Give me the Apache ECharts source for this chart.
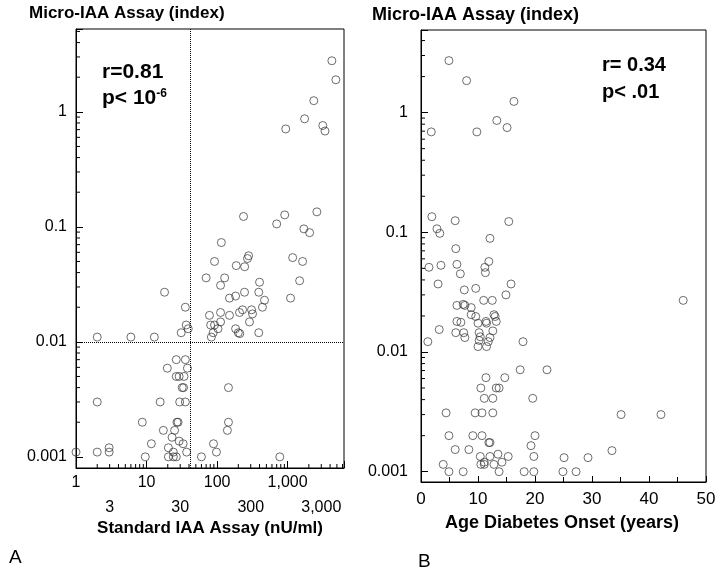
<!DOCTYPE html>
<html>
<head>
<meta charset="utf-8">
<script src="https://cdn.jsdelivr.net/npm/echarts@6/dist/echarts.min.js"></script>
<style>
html, body { margin: 0; padding: 0; background: #fff; }
#chart { width: 721px; height: 575px; }
</style>
</head>
<body>
<div id="chart"></div>
<script>
// panel A: standard IAA assay (nU/ml) vs micro-IAA index
const standardVsMicro = [
  [4240, 2.78], [4830, 1.9], [2350, 1.25], [1740, 0.87], [940, 0.71], [3150, 0.76], [3390, 0.68],
  [2600, 0.135], [910, 0.127], [700, 0.106], [237, 0.123], [1700, 0.096], [2050, 0.089], [115, 0.073],
  [92, 0.050], [280, 0.056], [270, 0.053], [187, 0.046], [246, 0.045], [1180, 0.054], [1630, 0.050],
  [70, 0.036], [128, 0.036], [112, 0.031], [400, 0.033], [1480, 0.034], [18, 0.027],
  [150, 0.024], [183, 0.025], [245, 0.027], [390, 0.027], [470, 0.023], [1100, 0.024],
  [35.5, 0.020], [78, 0.017], [112, 0.018], [150, 0.017], [208, 0.018], [230, 0.019], [308, 0.019],
  [318, 0.0175], [288, 0.0149], [440, 0.020], [112, 0.0149], [92, 0.014], [81, 0.014], [103, 0.013],
  [88, 0.012], [83, 0.011], [183, 0.013], [200, 0.012], [210, 0.0118], [390, 0.012],
  [36.5, 0.014], [39, 0.013], [31, 0.012], [2.0, 0.011], [6.0, 0.011], [12.9, 0.011],
  [26.4, 0.007], [35.5, 0.007], [19.7, 0.0059], [38, 0.0059], [26.4, 0.005], [29, 0.005], [34, 0.005],
  [32, 0.004], [33.5, 0.004], [145, 0.004], [2.0, 0.003], [15.6, 0.003], [29.5, 0.003], [35.5, 0.003],
  [8.7, 0.002], [27, 0.002], [28, 0.002], [145, 0.002], [140, 0.0017], [17.3, 0.0017], [25, 0.0017],
  [23, 0.00148], [29, 0.00137], [11.7, 0.0013], [33, 0.0013], [89, 0.0013], [2.95, 0.0012],
  [2.95, 0.0011], [20.4, 0.0012], [2.0, 0.0011], [24, 0.0011], [37, 0.0011], [98, 0.0011], [1, 0.0011],
  [9.6, 0.001], [20.4, 0.001], [24, 0.001], [26.4, 0.001], [60, 0.001], [775, 0.001]
];

// panel B: age at onset (years) vs micro-IAA index
const onsetVsMicro = [
  [4.9, 2.72], [8.0, 1.85], [16.3, 1.24], [13.3, 0.86], [15.1, 0.75], [9.8, 0.69], [1.8, 0.69],
  [1.9, 0.135], [6.0, 0.125], [15.4, 0.123], [2.8, 0.107], [3.3, 0.098], [12.1, 0.089], [6.1, 0.073],
  [11.9, 0.057], [1.4, 0.051], [3.5, 0.053], [6.3, 0.054], [11.2, 0.051], [11.3, 0.046], [6.9, 0.045],
  [3.0, 0.037], [15.8, 0.037], [7.6, 0.033], [9.6, 0.034], [14.9, 0.030], [46, 0.027],
  [11.0, 0.027], [12.5, 0.027], [6.3, 0.0245], [7.4, 0.025], [7.7, 0.0245], [8.8, 0.0235], [8.8, 0.0205],
  [9.6, 0.0198], [12.8, 0.0205], [13.0, 0.0198], [6.3, 0.018], [7.0, 0.0177], [10.0, 0.0174],
  [11.4, 0.018], [11.5, 0.0174], [13.2, 0.018], [3.2, 0.0154], [6.1, 0.0145], [7.5, 0.0145],
  [7.7, 0.0132], [10.2, 0.0145], [12.6, 0.015], [10.4, 0.0134], [12.1, 0.0132], [10.2, 0.0125],
  [11.8, 0.0122], [1.2, 0.0122], [17.9, 0.0122], [10.0, 0.0111], [11.5, 0.0111],
  [17.4, 0.0071], [22.1, 0.0071], [11.4, 0.0061], [14.7, 0.0061], [10.5, 0.005], [13.2, 0.005],
  [13.7, 0.005], [11.1, 0.0041], [12.6, 0.0041], [19.6, 0.0041], [4.4, 0.0031], [9.5, 0.0031],
  [10.7, 0.0031], [12.6, 0.0031], [35.1, 0.003], [42.1, 0.003], [4.9, 0.002], [9.1, 0.002],
  [10.7, 0.002], [20.0, 0.002], [11.9, 0.00175], [12.1, 0.00175], [19.3, 0.00165], [6.0, 0.00153],
  [8.4, 0.00153], [33.5, 0.0015], [10.4, 0.00134], [12.1, 0.00134], [13.5, 0.0014], [15.3, 0.00134],
  [19.8, 0.00134], [25.1, 0.00131], [29.3, 0.00131], [3.9, 0.00115], [11.1, 0.0012], [11.1, 0.00115],
  [10.5, 0.00115], [12.8, 0.00115], [14.2, 0.0012], [4.9, 0.001], [7.4, 0.001], [13.7, 0.001],
  [18.1, 0.001], [19.8, 0.001], [24.9, 0.001], [27.2, 0.001]
];

const xSecondRowA = [3, 30, 300, 3000];
const xMinorA = [2, 3, 4, 5, 6, 7, 8, 9, 20, 30, 40, 50, 60, 70, 80, 90,
  200, 300, 400, 500, 600, 700, 800, 900, 2000, 3000, 4000, 5000, 6000];
const yMinorA = [0.002, 0.003, 0.004, 0.005, 0.006, 0.007, 0.008, 0.009,
  0.02, 0.03, 0.04, 0.05, 0.06, 0.07, 0.08, 0.09,
  0.2, 0.3, 0.4, 0.5, 0.6, 0.7, 0.8, 0.9, 2, 3, 4, 5];
const yMinorB = yMinorA.filter(v => v < 4.5);
const cutoffStandard = 42;
const cutoffMicro = 0.01;

const A_X = [1, 6300], A_Y = [0.0008, 5.25];
const B_X = [0, 50], B_Y = [0.00082, 4.9];

const FONT = '"Liberation Sans", Arial, Helvetica, sans-serif';

function isPow10(v) {
  const l = Math.log10(v);
  return Math.abs(l - Math.round(l)) < 1e-6;
}
function withCommas(v) {
  return String(Math.round(v)).replace(/\B(?=(\d{3})+(?!\d))/g, ',');
}
function yLabel(v) {
  return isPow10(v) ? String(+v.toPrecision(6)) : '';
}

// small ticks drawn through the axes' own coords
function minorTicks(gi, vals, dir, edge, len) {
  return {
    type: 'custom', xAxisIndex: gi, yAxisIndex: gi, silent: true, clip: false, z: 3,
    data: vals.map(v => dir === 'x' ? [v, edge] : [edge, v]),
    renderItem: function (params, api) {
      const p = api.coord([api.value(0), api.value(1)]);
      const shape = dir === 'x'
        ? { x1: p[0], y1: p[1], x2: p[0], y2: p[1] - len }
        : { x1: p[0], y1: p[1], x2: p[0] + len, y2: p[1] };
      return { type: 'line', shape: shape, style: { stroke: '#000', lineWidth: 1 } };
    }
  };
}

const pointStyle = { color: 'transparent', borderColor: '#333', borderWidth: 0.9 };
const labelStyle = { color: '#000', fontSize: 16, fontFamily: FONT };

const chart = echarts.init(document.getElementById('chart'));
chart.setOption({
  animation: false,
  grid: [
    { left: 76, top: 29, width: 268, height: 439, show: true, borderColor: '#000', borderWidth: 1 },
    { left: 421, top: 30, width: 285, height: 452, show: true, borderColor: '#000', borderWidth: 1 }
  ],
  xAxis: [
    {
      gridIndex: 0, type: 'log', min: A_X[0], max: A_X[1],
      axisLine: { lineStyle: { color: '#000', width: 1 } },
      axisTick: { inside: true, length: 7, lineStyle: { color: '#000' } },
      axisLabel: Object.assign({ margin: 7, formatter: v => isPow10(v) ? withCommas(v) : '' }, labelStyle),
      splitLine: { show: false }
    },
    {
      gridIndex: 1, type: 'value', min: B_X[0], max: B_X[1], interval: 10,
      axisLine: { lineStyle: { color: '#000', width: 1 } },
      axisTick: { inside: true, length: 6, lineStyle: { color: '#000' } },
      minorTick: { show: true, splitNumber: 2, length: 5, lineStyle: { color: '#000' } },
      axisLabel: Object.assign({ margin: 9 }, labelStyle, { fontSize: 17 }),
      splitLine: { show: false }
    }
  ],
  yAxis: [
    {
      gridIndex: 0, type: 'log', min: A_Y[0], max: A_Y[1],
      axisLine: { lineStyle: { color: '#000', width: 1 } },
      axisTick: { inside: true, length: 7, lineStyle: { color: '#000' } },
      axisLabel: Object.assign({ margin: 9, formatter: yLabel }, labelStyle),
      splitLine: { show: false }
    },
    {
      gridIndex: 1, type: 'log', min: B_Y[0], max: B_Y[1],
      axisLine: { lineStyle: { color: '#000', width: 1 } },
      axisTick: { inside: true, length: 7, lineStyle: { color: '#000' } },
      axisLabel: Object.assign({ margin: 13, formatter: yLabel }, labelStyle),
      splitLine: { show: false }
    }
  ],
  series: [
    {
      type: 'scatter', xAxisIndex: 0, yAxisIndex: 0, data: standardVsMicro,
      symbol: 'circle', symbolSize: 8, itemStyle: pointStyle, emphasis: { disabled: true },
      markLine: {
        silent: true, symbol: 'none', label: { show: false }, animation: false,
        lineStyle: { color: '#000', type: 'dotted', width: 1 },
        data: [{ xAxis: cutoffStandard }, { yAxis: cutoffMicro }]
      }
    },
    {
      type: 'scatter', xAxisIndex: 1, yAxisIndex: 1, data: onsetVsMicro,
      symbol: 'circle', symbolSize: 8, itemStyle: pointStyle, emphasis: { disabled: true }
    },
    minorTicks(0, xMinorA, 'x', A_Y[0], 4),
    minorTicks(0, yMinorA, 'y', A_X[0], 4),
    minorTicks(1, yMinorB, 'y', B_X[0], 4),
    {
      type: 'custom', xAxisIndex: 0, yAxisIndex: 0, silent: true, clip: false,
      data: xSecondRowA.map(v => [v, A_Y[0]]),
      renderItem: function (params, api) {
        const p = api.coord([api.value(0), api.value(1)]);
        return {
          type: 'text', x: p[0], y: p[1] + 40,
          style: { text: withCommas(api.value(0)), fill: '#000', font: '16px ' + FONT, align: 'center', verticalAlign: 'middle' }
        };
      }
    }
  ],
  graphic: [
    { type: 'text', x: 29, y: 13, style: { text: 'Micro-IAA Assay (index)', font: 'bold 17px ' + FONT, fill: '#000', verticalAlign: 'middle' } },
    { type: 'text', x: 372, y: 15, style: { text: 'Micro-IAA Assay (index)', font: 'bold 18px ' + FONT, fill: '#000', verticalAlign: 'middle' } },
    { type: 'text', x: 102, y: 72, style: { text: 'r=0.81', font: 'bold 21px ' + FONT, fill: '#000', verticalAlign: 'middle' } },
    {
      type: 'text', x: 102, y: 98,
      style: {
        text: '{a|p< 10}{b|-6}', fill: '#000', verticalAlign: 'middle',
        rich: {
          a: { font: 'bold 21px ' + FONT, fill: '#000' },
          b: { font: 'bold 12px ' + FONT, fill: '#000', verticalAlign: 'top' }
        }
      }
    },
    { type: 'text', x: 602, y: 65, style: { text: 'r= 0.34', font: 'bold 20px ' + FONT, fill: '#000', verticalAlign: 'middle' } },
    { type: 'text', x: 602, y: 92, style: { text: 'p< .01', font: 'bold 20px ' + FONT, fill: '#000', verticalAlign: 'middle' } },
    { type: 'text', x: 210, y: 528, style: { text: 'Standard IAA Assay (nU/ml)', font: 'bold 17px ' + FONT, fill: '#000', align: 'center', verticalAlign: 'middle' } },
    { type: 'text', x: 562, y: 523, style: { text: 'Age Diabetes Onset (years)', font: 'bold 18px ' + FONT, fill: '#000', align: 'center', verticalAlign: 'middle' } },
    { type: 'text', x: 9, y: 558, style: { text: 'A', font: '19px ' + FONT, fill: '#000', verticalAlign: 'middle' } },
    { type: 'text', x: 418, y: 562, style: { text: 'B', font: '19px ' + FONT, fill: '#000', verticalAlign: 'middle' } }
  ]
});

window.addEventListener('resize', function () { chart.resize(); });
</script>
</body>
</html>
